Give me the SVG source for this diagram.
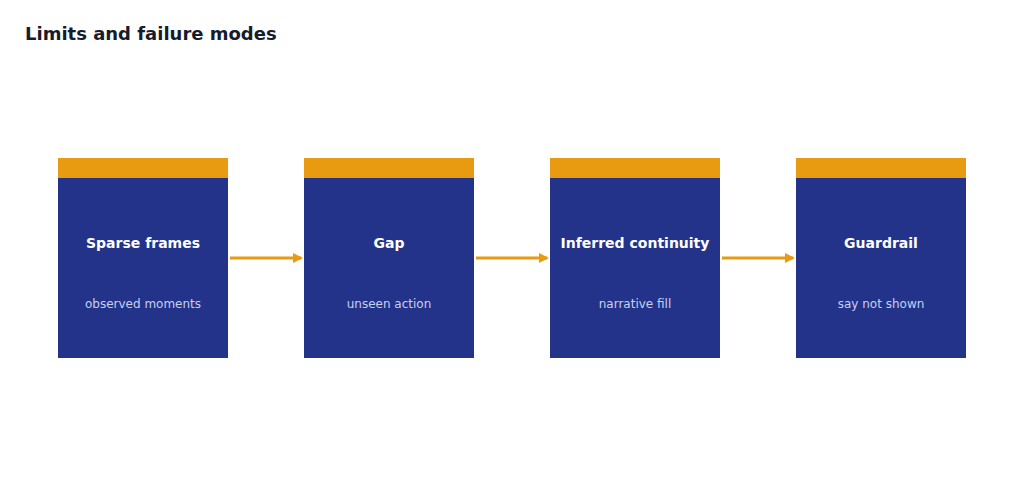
<svg xmlns="http://www.w3.org/2000/svg" width="1024" height="483" viewBox="0 0 1024 483">
<style>
.body{fill:#23338a}.band{fill:#e89a10}
.t{font-family:"DejaVu Sans",sans-serif;font-size:14px;font-weight:bold;fill:#fff;text-anchor:middle}
.s{font-family:"DejaVu Sans",sans-serif;font-size:12px;fill:#c8d0f0;text-anchor:middle}
.c{stroke:#e89a10;stroke-width:3;fill:none}
</style>
<defs><marker id="a" markerWidth="10" markerHeight="10" refX="8" refY="5" orient="auto" markerUnits="userSpaceOnUse"><path d="M0,0 L10,5 L0,10 z" fill="#e89a10"/></marker></defs>
<rect width="1024" height="483" fill="#fff"/>
<text x="25" y="40" font-family="DejaVu Sans,sans-serif" font-size="18" font-weight="bold" fill="#161b2e">Limits and failure modes</text>
<g id="n1"><rect class="body" x="58" y="158" width="170" height="200"/><rect class="band" x="58" y="158" width="170" height="20"/><text class="t" x="143" y="248">Sparse frames</text><text class="s" x="143" y="308">observed moments</text></g>
<g id="n2"><rect class="body" x="304" y="158" width="170" height="200"/><rect class="band" x="304" y="158" width="170" height="20"/><text class="t" x="389" y="248">Gap</text><text class="s" x="389" y="308">unseen action</text></g>
<g id="n3"><rect class="body" x="550" y="158" width="170" height="200"/><rect class="band" x="550" y="158" width="170" height="20"/><text class="t" x="635" y="248">Inferred continuity</text><text class="s" x="635" y="308">narrative fill</text></g>
<g id="n4"><rect class="body" x="796" y="158" width="170" height="200"/><rect class="band" x="796" y="158" width="170" height="20"/><text class="t" x="881" y="248">Guardrail</text><text class="s" x="881" y="308">say not shown</text></g>
<g id="connectors">
<line class="c" x1="230" y1="258" x2="301" y2="258" marker-end="url(#a)"/>
<line class="c" x1="476" y1="258" x2="547" y2="258" marker-end="url(#a)"/>
<line class="c" x1="722" y1="258" x2="793" y2="258" marker-end="url(#a)"/>
</g>
</svg>
